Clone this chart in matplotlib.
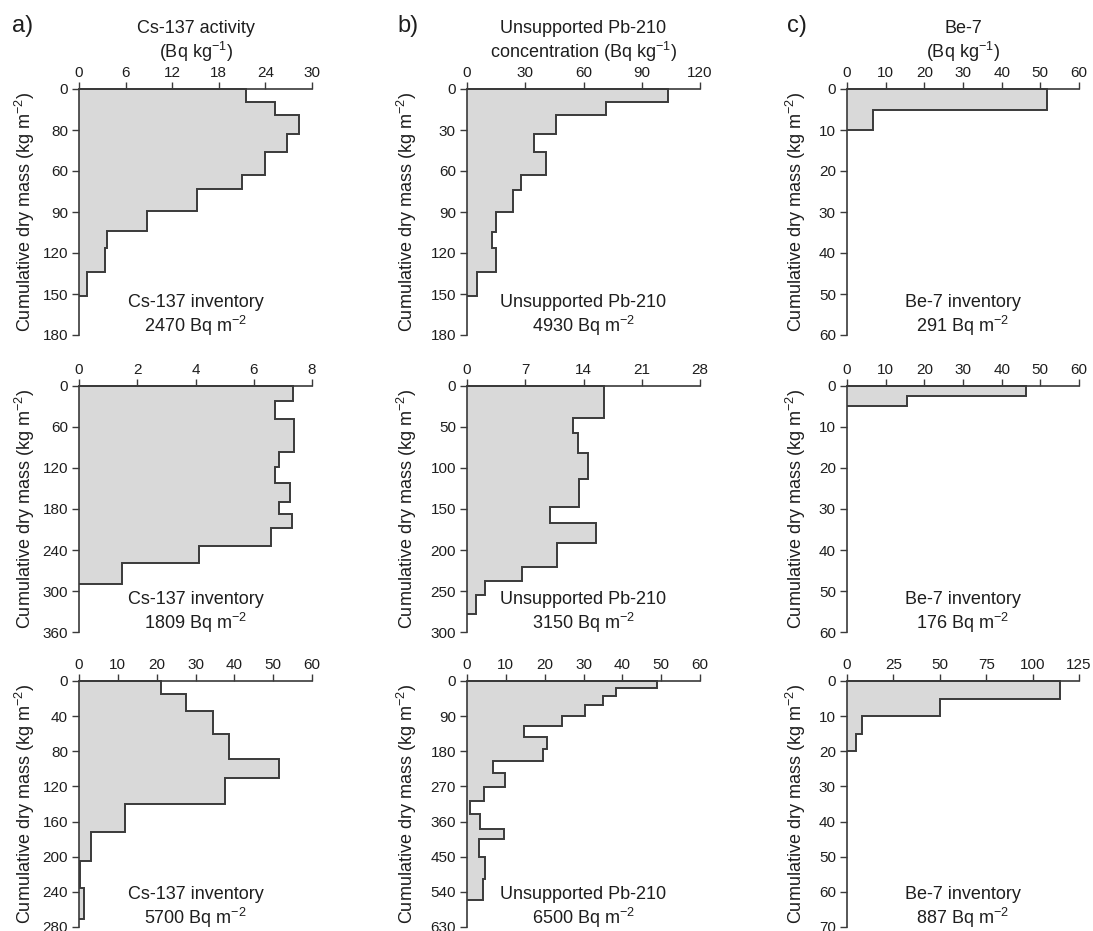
import matplotlib
matplotlib.use("Agg")
import matplotlib.pyplot as plt

plt.rcParams['font.family'] = ['Liberation Sans', 'DejaVu Sans']
plt.rcParams['mathtext.fontset'] = 'custom'
plt.rcParams['mathtext.rm'] = 'Liberation Sans'
plt.rcParams['mathtext.it'] = 'Liberation Sans:italic'
plt.rcParams['mathtext.default'] = 'regular'

# ---------------- data (depth edges in kg m-2, activities in Bq kg-1) ----------------
# Row 1
a1_edges = [0, 9.5, 18.7, 33.2, 46, 63, 73.5, 89.5, 104, 116.5, 133.6, 151.4]
a1_vals = [21.5, 25.2, 28.3, 26.8, 23.9, 21.0, 15.2, 8.7, 3.56, 3.3, 1.07]
b1_edges = [0, 9.8, 18.8, 33.2, 46.3, 62.9, 73.9, 89.7, 104.4, 116.5, 133.6, 151.4]
b1_vals = [103.7, 71.5, 45.8, 34.3, 40.8, 27.9, 23.7, 15.1, 12.9, 14.9, 5.1]
c1_edges = [0, 5, 10]
c1_vals = [51.8, 6.7]
# Row 2
a2_edges = [0, 22.3, 49.1, 97.3, 118.2, 142.5, 170.3, 187.8, 208.2, 234, 259.3, 289.5]
a2_vals = [7.35, 6.72, 7.38, 6.85, 6.72, 7.26, 6.85, 7.31, 6.58, 4.11, 1.48]
b2_edges = [0, 38.9, 57.9, 81.5, 113.5, 147.2, 167.4, 191.7, 220.9, 237.4, 254.6, 277.5]
b2_vals = [16.5, 12.76, 13.36, 14.56, 13.44, 9.95, 15.45, 10.76, 6.6, 2.15, 1.1]
c2_edges = [0, 2.5, 5]
c2_vals = [46.2, 15.6]
# Row 3
a3_edges = [0, 14.8, 34.2, 60.4, 88.9, 110.9, 140.5, 172.4, 204.8, 236, 270.4]
a3_vals = [21.06, 27.5, 34.6, 38.7, 51.6, 37.5, 11.86, 3.0, 0.3, 1.35]
b3_edges = [0, 17, 38.5, 61.5, 88.9, 114.5, 144.4, 174.4, 205, 236.7, 272.6, 306.8,
            341, 380, 405.8, 452, 508, 561.5]
b3_vals = [48.8, 38.3, 35.1, 30.4, 24.5, 14.6, 20.6, 19.6, 6.7, 9.7, 4.4, 0.87,
           3.45, 9.55, 3.0, 4.74, 4.1]
c3_edges = [0, 5, 10, 15, 20]
c3_vals = [115, 49.9, 8.1, 5.0]

# axis ranges and tick steps
x_max = [[30, 120, 60], [8, 28, 60], [60, 60, 125]]
x_step = [[6, 30, 10], [2, 7, 10], [10, 10, 25]]
y_max = [[180, 180, 60], [360, 300, 60], [280, 630, 70]]
y_step = [[30, 30, 10], [60, 50, 10], [40, 90, 10]]
# tick labels of panel a) row 1 as printed in the figure
a1_ylabels = ['0', '80', '60', '90', '120', '150', '180']

col_titles = ["Cs-137 activity\n(Bq kg$^{-1}$)",
              "Unsupported Pb-210\nconcentration (Bq kg$^{-1}$)",
              "Be-7\n(Bq kg$^{-1}$)"]
panel_letters = ["a)", "b)", "c)"]
inv_names = ["Cs-137 inventory", "Unsupported Pb-210", "Be-7 inventory"]
inventories = [[2470, 4930, 291], [1809, 3150, 176], [5700, 6500, 887]]
ylabel = "Cumulative dry mass (kg m$^{-2}$)"

edges = [[a1_edges, b1_edges, c1_edges], [a2_edges, b2_edges, c2_edges],
         [a3_edges, b3_edges, c3_edges]]
vals = [[a1_vals, b1_vals, c1_vals], [a2_vals, b2_vals, c2_vals],
        [a3_vals, b3_vals, c3_vals]]

# ---------------- layout ----------------
W, H = 1093, 931
fig = plt.figure(figsize=(W / 100, H / 100), dpi=100)
cols = [(79, 312), (467, 700), (847, 1079)]
rows = [(89, 335), (385.7, 632.3), (681, 927)]
ylabel_x = [25, 407, 796]
letter_x = [12, 397, 787]

FILL = '#d9d9d9'
LINE = '#3a3a3a'
TXT = '#1e1e1e'

for c in range(3):
    fig.text(letter_x[c] / W, 1 - 26 / H, panel_letters[c], fontsize=17,
             color=TXT, ha='left', va='center')
    cx = (cols[c][0] + cols[c][1]) / 2
    fig.text(cx / W, 1 - 42 / H, col_titles[c], fontsize=13, color=TXT,
             ha='center', va='center', linespacing=1.15)

for r in range(3):
    for c in range(3):
        l, rr = cols[c]
        t, b = rows[r]
        ax = fig.add_axes([l / W, 1 - b / H, (rr - l) / W, (b - t) / H])
        e = edges[r][c]
        v = vals[r][c]
        ax.stairs(v, e, orientation='horizontal', baseline=0, fill=True,
                  facecolor=FILL, edgecolor='none', linewidth=0)
        ax.stairs(v, e, orientation='horizontal', baseline=0, fill=False,
                  edgecolor=LINE, linewidth=1.4, clip_on=False)
        ax.set_xlim(0, x_max[r][c])
        ax.set_ylim(y_max[r][c], 0)
        xt = list(range(0, x_max[r][c] + 1, x_step[r][c]))
        yt = list(range(0, y_max[r][c] + 1, y_step[r][c]))
        ax.set_xticks(xt)
        ax.set_yticks(yt)
        if r == 0 and c == 0:
            ax.set_yticklabels(a1_ylabels)
        ax.xaxis.tick_top()
        for s in ['bottom', 'right']:
            ax.spines[s].set_visible(False)
        for s in ['top', 'left']:
            ax.spines[s].set_color(LINE)
            ax.spines[s].set_linewidth(1.2)
        ax.tick_params(axis='x', direction='out', length=5, width=1.0,
                       color=LINE, pad=1.5, labelsize=11, labelcolor=TXT)
        ax.tick_params(axis='y', direction='out', length=5, width=1.0,
                       color=LINE, pad=3, labelsize=11, labelcolor=TXT)
        ax.patch.set_alpha(0)
        ax.text(0.5, 0.132, inv_names[c], transform=ax.transAxes, ha='center',
                va='center', fontsize=13, color=TXT)
        ax.text(0.5, 0.038, f"{inventories[r][c]} Bq m$^{{-2}}$",
                transform=ax.transAxes, ha='center', va='center', fontsize=13,
                color=TXT)
        fig.text(ylabel_x[c] / W, 1 - ((t + b) / 2) / H, ylabel, rotation=90,
                 ha='center', va='center', fontsize=13, color=TXT)

fig.savefig("out.png", dpi=100)
